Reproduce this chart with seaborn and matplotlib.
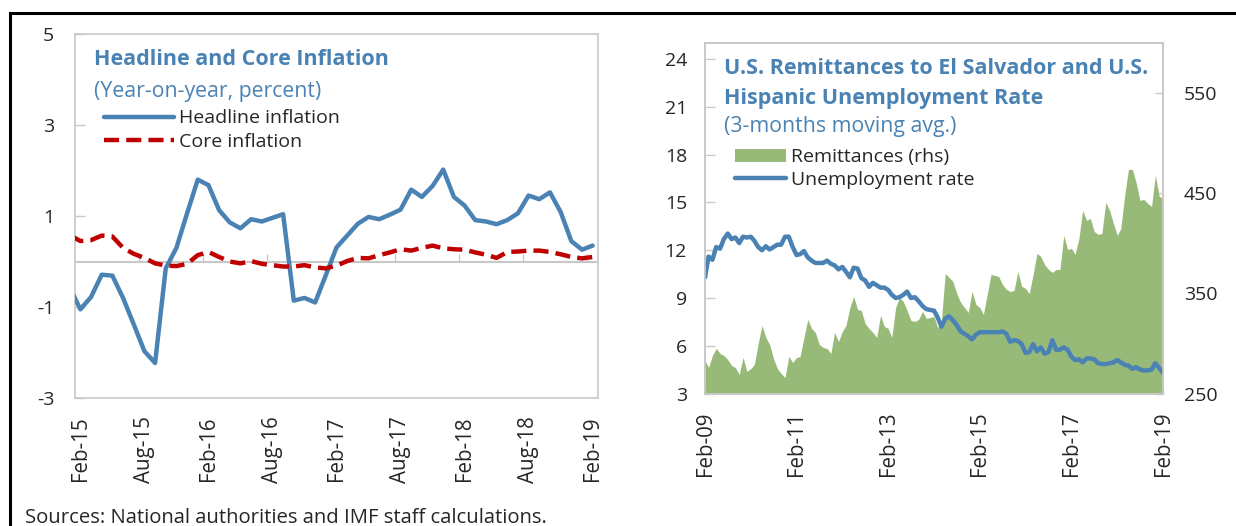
import numpy as np
import pandas as pd
import matplotlib.pyplot as plt
import matplotlib.dates as mdates
from matplotlib.lines import Line2D
from matplotlib.patches import Patch, Rectangle
import seaborn as sns

# ---- data: left panel (Jan-15 .. Feb-19, Jan-15 only feeds the clipped first segment)
infl_months = pd.period_range('2015-01', '2019-02', freq='M')
headline = [-0.57,
            -1.05, -0.78, -0.29, -0.31, -0.80, -1.38, -1.97, -2.23, -0.15, 0.30,
            1.06, 1.80, 1.68, 1.13, 0.86, 0.73, 0.93, 0.88, 0.96, 1.04,
            -0.86, -0.80, -0.90, -0.30, 0.31, 0.57, 0.83, 0.98, 0.93, 1.03,
            1.14, 1.58, 1.42, 1.66, 2.02, 1.42, 1.23, 0.91, 0.88, 0.82,
            0.91, 1.06, 1.45, 1.37, 1.52, 1.09, 0.45, 0.26, 0.35]
core = [0.58,
        0.45, 0.47, 0.57, 0.55, 0.30, 0.17, 0.08, -0.04, -0.09, -0.10,
        -0.05, 0.14, 0.21, 0.10, 0.00, -0.04, 0.01, -0.05, -0.08, -0.11,
        -0.11, -0.08, -0.13, -0.15, -0.09, 0.01, 0.08, 0.07, 0.14, 0.20,
        0.27, 0.24, 0.30, 0.35, 0.29, 0.27, 0.26, 0.20, 0.15, 0.08,
        0.21, 0.22, 0.24, 0.24, 0.21, 0.16, 0.10, 0.07, 0.10]

# ---- data: right panel (Feb-09 .. Feb-19)
rem_dates = pd.date_range('2009-02-01', '2019-02-01', freq='MS')
unemployment = [10.3, 11.6, 11.4, 12.2, 12.1, 12.7, 13.05, 12.7, 12.8, 12.45,
                12.85, 12.8, 12.85, 12.6, 12.2, 12.0, 12.25, 12.05, 12.2, 12.35,
                12.35, 12.85, 12.85, 12.2, 11.7, 11.75, 11.95, 11.55, 11.35, 11.2,
                11.2, 11.2, 11.35, 11.15, 11.05, 10.8, 10.95, 10.65, 10.3, 10.9,
                10.85, 10.25, 10.1, 9.7, 9.95, 9.8, 9.65, 9.65, 9.5, 9.2,
                9.0, 9.05, 9.2, 9.4, 9.0, 9.05, 8.8, 8.5, 8.3, 8.25,
                8.2, 7.8, 7.2, 7.7, 7.85, 7.6, 7.3, 6.9, 6.75, 6.6,
                6.4, 6.7, 6.85, 6.85, 6.85, 6.85, 6.85, 6.85, 6.9, 6.75,
                6.25, 6.35, 6.3, 6.1, 5.55, 5.6, 6.1, 5.65, 5.9, 5.5,
                5.6, 6.35, 5.75, 5.75, 5.9, 5.75, 5.3, 5.1, 5.15, 4.95,
                5.2, 5.2, 5.15, 4.9, 4.85, 4.85, 4.9, 4.95, 5.1, 4.95,
                4.8, 4.75, 4.55, 4.65, 4.5, 4.45, 4.45, 4.5, 4.9, 4.6,
                4.3]
remittances = [283, 276, 288, 295, 290, 288, 284, 278, 276, 269,
               286, 272, 275, 279, 300, 318, 306, 299, 285, 275,
               270, 266, 287, 281, 286, 287, 306, 324, 315, 311,
               299, 296, 295, 290, 311, 302, 312, 318, 336, 347,
               334, 333, 320, 315, 311, 306, 328, 317, 315, 306,
               336, 346, 342, 333, 323, 322, 324, 332, 325, 326,
               327, 316, 323, 370, 366, 362, 350, 341, 336, 331,
               352, 339, 336, 329, 349, 369, 368, 367, 359, 354,
               352, 353, 372, 357, 355, 350, 369, 390, 387, 379,
               374, 371, 374, 374, 408, 394, 395, 389, 405, 433,
               423, 425, 412, 409, 410, 441, 433, 420, 408, 415,
               448, 474, 474, 461, 443, 444, 440, 437, 468, 447,
               445]

BLUE = '#4A82B4'
RED = '#C00000'
GREEN = '#98BA78'
FRAME = '#C8C8C8'
FS = 14          # legend text
SUB_FS = 15.3    # subtitles
SRC_FS = 14.6
TICK_FS = 14
XTICK_FS = 14.8
TITLE_FS = 15.5
DASH = (3.4, 1.6)

sns.set_theme(style='white')
plt.rcParams['font.family'] = ['Open Sans', 'DejaVu Sans']

fig = plt.figure(figsize=(12.36, 5.26), dpi=100)

# ================= left panel =================
ax = fig.add_axes([0.0607, 0.2433, 0.4231, 0.692])
xpos = np.arange(len(infl_months)) - 1
infl = pd.DataFrame({'x': xpos, 'headline': headline, 'core': core})
ax.axhline(0, color=FRAME, lw=1.5, zorder=1)
sns.lineplot(data=infl, x='x', y='headline', ax=ax, color=BLUE, lw=3.2, zorder=3)
sns.lineplot(data=infl, x='x', y='core', ax=ax, color=RED, lw=3.2, zorder=3)
ax.lines[-1].set_dashes(DASH)
ax.set_xlim(-0.5, 48.5)
ax.set_ylim(-3, 5)
ax.set_yticks([-3, -1, 1, 3, 5])
ax.set_yticklabels(['-3', '-1', '1', '3', '5'])
lab_pos = np.arange(0, 49, 6)
ax.set_xticks(lab_pos)
ax.set_xticklabels([infl_months[p + 1].strftime('%b-%y') for p in lab_pos], rotation=90)
ax.tick_params(axis='x', length=0, pad=13, labelsize=XTICK_FS)
ax.tick_params(axis='y', direction='in', length=7, width=1, color=FRAME, pad=15,
               labelsize=TICK_FS, left=True)
# small category-boundary ticks sitting on the zero line
ax.vlines(lab_pos[1:] - 0.5, 0, 0.17, color=FRAME, lw=1, zorder=1)
ax.set_xlabel('')
ax.set_ylabel('')
for s in ax.spines.values():
    s.set_color(FRAME)
    s.set_linewidth(1.2)

ax.text(0.036, 0.929, 'Headline and Core Inflation', transform=ax.transAxes,
        color=BLUE, fontsize=TITLE_FS, fontweight='bold', va='center')
ax.text(0.036, 0.843, '(Year-on-year, percent)', transform=ax.transAxes,
        color=BLUE, fontsize=SUB_FS, va='center')
h1 = [Line2D([], [], color=BLUE, lw=3.2),
      Line2D([], [], color=RED, lw=3.2, dashes=DASH)]
ax.legend(h1, ['Headline inflation', 'Core inflation'], loc='upper left',
          bbox_to_anchor=(0.055, 0.793), frameon=False, fontsize=FS,
          handlelength=3.6, handletextpad=0.25, labelspacing=0.3,
          borderpad=0, borderaxespad=0)

# ================= right panel =================
axr = fig.add_axes([0.5704, 0.2519, 0.3706, 0.6658])
rem = pd.DataFrame({'date': rem_dates, 'remittances': remittances,
                    'unemployment': unemployment})
axr.fill_between(rem['date'], 250, rem['remittances'], color=GREEN, lw=0)

axl = axr.twinx()
sns.lineplot(data=rem, x='date', y='unemployment', ax=axl, color=BLUE, lw=3.2)

# remittances scale on the right, unemployment on the left
axr.set_ylim(250, 600)
axr.set_yticks([250, 350, 450, 550])
axr.yaxis.tick_right()
axr.tick_params(axis='y', direction='in', length=6, width=1, color=FRAME, pad=15,
                labelsize=TICK_FS, right=True, left=False, labelright=True,
                labelleft=False)
axl.set_ylim(3, 25)
axl.set_yticks(np.arange(3, 25, 3))
axl.yaxis.tick_left()
axl.tick_params(axis='y', direction='in', length=7, width=1, color=FRAME, pad=13,
                labelsize=TICK_FS, left=True, right=False, labelleft=True,
                labelright=False)
axl.set_ylabel('')
axl.set_xlabel('')
axr.set_ylabel('')

axr.set_xlim(rem_dates[0], rem_dates[-1])
axr.set_xticks(rem_dates[::24])
axr.xaxis.set_major_formatter(mdates.DateFormatter('%b-%y'))
axr.tick_params(axis='x', direction='in', length=5, width=1, color=FRAME, pad=13,
                labelsize=XTICK_FS, rotation=90, bottom=True)
for a in (axr, axl):
    for s in a.spines.values():
        s.set_color(FRAME)
        s.set_linewidth(1.2)

axr.text(0.041, 0.927, 'U.S. Remittances to El Salvador and U.S.', transform=axr.transAxes,
         color=BLUE, fontsize=TITLE_FS, fontweight='bold', va='center', zorder=5)
axr.text(0.041, 0.842, 'Hispanic Unemployment Rate', transform=axr.transAxes,
         color=BLUE, fontsize=TITLE_FS, fontweight='bold', va='center', zorder=5)
axr.text(0.041, 0.762, '(3-months moving avg.)', transform=axr.transAxes,
         color=BLUE, fontsize=SUB_FS, va='center', zorder=5)
h2 = [Patch(facecolor=GREEN, edgecolor='none'), Line2D([], [], color=BLUE, lw=3.2)]
axl.legend(h2, ['Remittances (rhs)', 'Unemployment rate'], loc='upper left',
           bbox_to_anchor=(0.0655, 0.70), frameon=False, fontsize=FS,
           handlelength=2.6, handletextpad=0.3, labelspacing=0.25,
           borderpad=0, borderaxespad=0)

# outer frame and source note
fig.add_artist(Rectangle((10 / 1236, -0.2), 1.2, 1.2 - 13 / 526, transform=fig.transFigure,
                         fill=False, edgecolor='black', lw=2.2))
fig.text(25 / 1236, 0.016, 'Sources: National authorities and IMF staff calculations.',
         fontsize=SRC_FS, va='center', ha='left')

fig.savefig('out.png', dpi=100, facecolor='white')
